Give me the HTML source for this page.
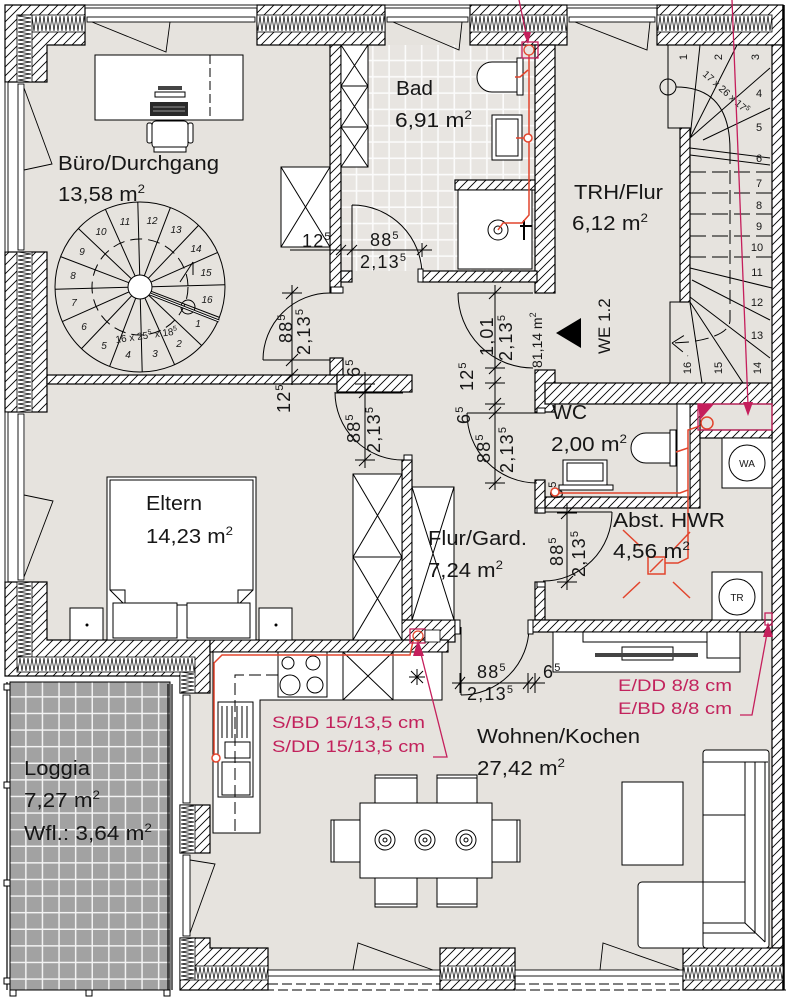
<!DOCTYPE html>
<html><head><meta charset="utf-8">
<style>
html,body{margin:0;padding:0;background:#fff;width:788px;height:1000px;overflow:hidden}
svg{display:block}
text{font-family:"Liberation Sans",Arial,sans-serif;fill:#161616}
.d{font-size:18px;letter-spacing:1.2px}
.m{fill:#c2225c}
</style></head><body>
<svg width="788" height="1000" viewBox="0 0 788 1000" xmlns="http://www.w3.org/2000/svg">
<defs>
<pattern id="h" patternUnits="userSpaceOnUse" width="9" height="9">
<rect width="9" height="9" fill="#fff"/>
<path d="M0,9 L9,0 M-2,2 L2,-2 M7,11 L11,7" stroke="#000" stroke-width="0.9"/>
</pattern>
<pattern id="iT" patternUnits="userSpaceOnUse" x="0" y="15" width="4" height="17">
<rect width="4" height="17" fill="#fff"/><path d="M0,1 L2,16 L4,1" fill="none" stroke="#000" stroke-width="0.7"/>
</pattern>
<pattern id="iL" patternUnits="userSpaceOnUse" x="17" y="0" width="15" height="4">
<rect width="15" height="4" fill="#fff"/><path d="M1,0 L14,2 L1,4" fill="none" stroke="#000" stroke-width="0.7"/>
</pattern>
<pattern id="iE" patternUnits="userSpaceOnUse" x="0" y="657" width="4" height="15">
<rect width="4" height="15" fill="#fff"/><path d="M0,1 L2,14 L4,1" fill="none" stroke="#000" stroke-width="0.7"/>
</pattern>
<pattern id="iK" patternUnits="userSpaceOnUse" x="180" y="0" width="15" height="4">
<rect width="15" height="4" fill="#fff"/><path d="M1,0 L14,2 L1,4" fill="none" stroke="#000" stroke-width="0.7"/>
</pattern>
<pattern id="iB" patternUnits="userSpaceOnUse" x="0" y="966" width="4" height="14">
<rect width="4" height="14" fill="#fff"/><path d="M0,1 L2,13 L4,1" fill="none" stroke="#000" stroke-width="0.7"/>
</pattern>
<pattern id="t" patternUnits="userSpaceOnUse" x="341" y="45" width="16.3" height="16.3">
<rect width="16.3" height="16.3" fill="#e8e5e1"/><path d="M15.5,0 V16.3 M0,15.5 H16.3" stroke="#fbfbfb" stroke-width="1.6"/>
</pattern>
<pattern id="lg" patternUnits="userSpaceOnUse" x="10" y="681" width="16.6" height="16.6">
<rect width="16.6" height="16.6" fill="#a2a2a2"/><path d="M16,0 V16.6 M0,16 H16.6" stroke="#f2f2f2" stroke-width="1.8"/>
</pattern>
</defs>

<!-- floor -->
<path d="M47,45 H772 V948 H210 V640 H47 Z" fill="#e6e3de"/>
<g fill="#e6e3de">
<rect x="85" y="22" width="172" height="23"/><rect x="385" y="22" width="85" height="23"/><rect x="567" y="22" width="90" height="23"/>
<rect x="25" y="82" width="22" height="170"/><rect x="25" y="412" width="22" height="170"/>
<rect x="190" y="693" width="20" height="112"/><rect x="190" y="853" width="20" height="85"/>
<rect x="268" y="948" width="172" height="22"/><rect x="515" y="948" width="168" height="22"/>
</g>
<!-- bad tiles -->
<rect x="341" y="45" width="194" height="226" fill="url(#t)"/>

<!-- loggia -->
<rect x="172" y="676" width="8" height="314" fill="#fff"/>
<rect x="10" y="682" width="160" height="308" fill="url(#lg)" stroke="#000" stroke-width="1"/>
<path d="M7,682 V990 M168,684 V990 M172,684 V990" stroke="#000" stroke-width="1.2"/>
<g fill="#fff" stroke="#000" stroke-width="1">
<rect x="4" y="684" width="6" height="6"/><rect x="4" y="782" width="6" height="6"/><rect x="4" y="880" width="6" height="6"/><rect x="4" y="978" width="6" height="6"/>
<rect x="10" y="990" width="6" height="6"/><rect x="86" y="990" width="6" height="6"/><rect x="164" y="990" width="6" height="6"/>
</g>

<!-- walls -->
<g fill="url(#h)" stroke="#000" stroke-width="1.2">
<path d="M5,5 H85 V45 H47 V82 H5 Z"/>
<rect x="257" y="5" width="128" height="40"/>
<rect x="470" y="5" width="97" height="40"/>
<rect x="657" y="5" width="126" height="40"/>
<rect x="772" y="45" width="11" height="903"/>
<rect x="5" y="252" width="42" height="160"/>
<path d="M5,582 H47 V640 H210 V693 H180 V676 H5 Z"/>
<rect x="180" y="805" width="30" height="48"/>
<path d="M180,938 H210 V948 H268 V990 H180 Z"/>
<rect x="440" y="948" width="75" height="42"/>
<rect x="683" y="948" width="100" height="42"/>
<rect x="330" y="45" width="11" height="248"/>
<rect x="535" y="45" width="20" height="248"/>
<rect x="341" y="271" width="11" height="11"/>
<rect x="422" y="271" width="115" height="11"/>
<rect x="455" y="180" width="80" height="10"/>
<rect x="47" y="375" width="290" height="9"/>
<rect x="330" y="358" width="13" height="17"/>
<rect x="337" y="375" width="75" height="17"/>
<rect x="402" y="460" width="10" height="180"/>
<rect x="535" y="370" width="20" height="42"/>
<rect x="545" y="383" width="227" height="21"/>
<rect x="690" y="404" width="10" height="104"/>
<rect x="700" y="430" width="72" height="8"/>
<rect x="545" y="497" width="145" height="11"/>
<rect x="535" y="480" width="10" height="33"/>
<rect x="535" y="582" width="10" height="38"/>
<rect x="530" y="620" width="242" height="12"/>
<rect x="400" y="620" width="55" height="22"/>
<rect x="210" y="640" width="238" height="12"/>
<rect x="680" y="128" width="10" height="174"/>
</g>
<path d="M783.5,5 V990" stroke="#000" stroke-width="2.5"/>
<!-- insulation -->
<g stroke="#000" stroke-width="0.8">
<rect x="17" y="15" width="68" height="17" fill="url(#iT)"/>
<rect x="17" y="15" width="15" height="67" fill="url(#iL)"/>
<rect x="257" y="15" width="128" height="17" fill="url(#iT)"/>
<rect x="470" y="15" width="97" height="17" fill="url(#iT)"/>
<rect x="657" y="15" width="115" height="17" fill="url(#iT)"/>
<rect x="17" y="252" width="15" height="160" fill="url(#iL)"/>
<rect x="17" y="582" width="15" height="75" fill="url(#iL)"/>
<rect x="17" y="657" width="178" height="15" fill="url(#iE)"/>
<rect x="180" y="672" width="15" height="21" fill="url(#iK)"/>
<rect x="180" y="805" width="15" height="48" fill="url(#iK)"/>
<rect x="180" y="938" width="15" height="42" fill="url(#iK)"/>
<rect x="195" y="966" width="73" height="14" fill="url(#iB)"/>
<rect x="440" y="966" width="75" height="14" fill="url(#iB)"/>
<rect x="683" y="966" width="100" height="14" fill="url(#iB)"/>
</g>

<!-- windows -->
<g fill="#fff" stroke="#000" stroke-width="0.9">
<rect x="85" y="5" width="172" height="3"/><rect x="87" y="17" width="168" height="5"/>
<rect x="385" y="5" width="85" height="3"/><rect x="387" y="17" width="81" height="5"/>
<rect x="567" y="5" width="90" height="3"/><rect x="569" y="17" width="86" height="5"/>
<rect x="5" y="82" width="3" height="170"/><rect x="18" y="84" width="6" height="166"/>
<rect x="5" y="412" width="3" height="170"/><rect x="18" y="414" width="6" height="166"/>
<rect x="183" y="695" width="7" height="108"/>
<rect x="183" y="855" width="7" height="81"/>
<rect x="268" y="970" width="172" height="6"/><rect x="515" y="970" width="168" height="6"/>
</g>
<g fill="none" stroke="#000" stroke-width="0.9">
<polyline points="92,22 166,52 170,22"/>
<polyline points="393,22 459,50 462,22"/>
<polyline points="575,22 647,50 650,22"/>
<polyline points="24,88 52,164 24,170"/>
<polyline points="24,495 53,501 24,577"/>
<polyline points="190,860 215,864 190,933"/>
<polyline points="353,970 358,943 433,970"/>
<polyline points="600,970 603,943 680,970"/>
<path d="M268,984 H440 M515,984 H683 M180,990 H786" stroke-dasharray="10,4"/>
</g>

<!-- Büro furniture -->
<g fill="#fff" stroke="#000" stroke-width="1">
<rect x="95" y="55" width="148" height="65"/>
<rect x="281" y="167" width="49" height="80"/>
<path d="M281,167 L330,247 M330,167 L281,247" fill="none"/>
<rect x="152" y="121" width="36" height="27" rx="4"/>
<rect x="147" y="123" width="5" height="20" rx="2"/><rect x="188" y="123" width="5" height="20" rx="2"/>
<rect x="154" y="147" width="32" height="5"/>
<rect x="155" y="92" width="30" height="5"/>
</g>
<path d="M210,55 V120" stroke="#000" stroke-dasharray="9,4"/>
<rect x="158" y="86" width="24" height="4" fill="#444"/>
<rect x="150" y="102" width="38" height="14" fill="#2a2a2a"/>
<path d="M153,107 H185 M153,111 H185" stroke="#bbb" stroke-width="0.8"/>

<!-- spiral stair -->
<g fill="none" stroke="#000" stroke-width="1">
<circle cx="140" cy="287" r="85" fill="#e6e3de"/>
<circle cx="140" cy="287" r="48" stroke-dasharray="12,6"/>
<path d="M151.2,291.3 L219.4,317.4 M148.7,295.3 L201.6,345.5 M144.9,298 L174.6,364.7 M140.3,299 L142.2,372 M135.7,298.2 L109.6,366.4 M131.7,295.7 L81.5,348.6 M129,291.9 L62.3,321.6 M128,287.3 L55,289.2 M128.8,282.7 L60.6,256.6 M131.3,278.7 L78.4,228.5 M135.1,276 L105.4,209.3 M139.7,275 L137.8,202 M144.3,275.8 L170.4,207.6 M148.3,278.3 L198.5,225.4 M151,282.1 L217.7,252.4 M152,286.7 L225,284.8"/>
<circle cx="140" cy="287" r="12" fill="#fff"/>
<circle cx="188" cy="307" r="7"/>
<path d="M180,282 L193,262 M193,262 L193,275" />
</g>
<path d="M150,294 L219,321" stroke="#000" stroke-width="3"/>
<path d="M150,294 L219,321" stroke="#fff" stroke-width="1"/>
<g font-size="10" font-style="italic" text-anchor="middle">
<text x="198" y="327">1</text><text x="179" y="347">2</text><text x="155" y="357">3</text><text x="128" y="358">4</text>
<text x="104" y="349">5</text><text x="84" y="330">6</text><text x="74" y="306">7</text><text x="73" y="279">8</text>
<text x="82" y="255">9</text><text x="101" y="235">10</text><text x="125" y="225">11</text><text x="152" y="224">12</text>
<text x="176" y="233">13</text><text x="196" y="252">14</text><text x="206" y="276">15</text><text x="207" y="303">16</text>
</g>
<text transform="translate(116,343) rotate(-8)" font-size="10">16 x 25<tspan font-size="7" dy="-4">5</tspan><tspan dy="4"> x 18</tspan><tspan font-size="7" dy="-4">5</tspan></text>

<!-- Bad fixtures -->
<g fill="#fff" stroke="#000" stroke-width="1">
<rect x="341" y="45" width="27" height="122"/>
<path d="M341,86 H368 M341,127 H368 M341,45 L368,86 M368,45 L341,86 M341,86 L368,127 M368,86 L341,127 M341,127 L368,167 M368,127 L341,167" fill="none"/>
<path d="M517,62 H492 A15,15 0 0 0 492,92 H517 Z"/>
<rect x="517" y="58" width="6" height="37"/>
<rect x="492" y="115" width="30" height="45"/>
<rect x="496" y="119" width="22" height="37"/>
<rect x="458" y="190" width="74" height="79"/>
<circle cx="498" cy="230" r="10"/>
<circle cx="498" cy="230" r="4"/>
</g>
<path d="M520,226 H532 M524,220 V240" stroke="#000" stroke-width="2"/>

<!-- TRH stair -->
<g fill="none" stroke="#000" stroke-width="1">
<path d="M668,45 V128 H680 M680,302 H670 V383"/>
<path d="M690,138 L700,45 M690,138 L737,45 M690,138 L770,68 M703,140 L770,108 M690,148 L770,158 M690,155 L770,165"/>
<path d="M690,172 H772 M690,193 H772 M690,214 H772 M690,236 H772 M690,257 H772" stroke-dasharray="16,6"/>
<path d="M690,268 L772,288 M692,280 L770,320 M690,297 L770,358 M690,302 L743,383 M690,303 L702,383"/>
<path d="M730,150 V320 Q730,336 690,342 L672,343 M672,343 L688,333 M672,343 L688,356" stroke-dasharray="14,6"/>
<circle cx="668" cy="87" r="8"/>
<path d="M676,87 Q730,87 730,150"/>
</g>
<g font-size="11" text-anchor="middle">
<text transform="translate(687,57) rotate(-90)">1</text>
<text transform="translate(722,57) rotate(-90)">2</text>
<text transform="translate(759,57) rotate(-90)">3</text>
<text x="759" y="97">4</text><text x="759" y="131">5</text><text x="759" y="162">6</text>
<text x="759" y="187">7</text><text x="759" y="209">8</text><text x="759" y="230">9</text>
<text x="757" y="251">10</text><text x="757" y="276">11</text><text x="757" y="306">12</text><text x="757" y="339">13</text>
<text transform="translate(761,368) rotate(-90)">14</text>
<text transform="translate(722,368) rotate(-90)">15</text>
<text transform="translate(691,368) rotate(-90)">16</text>
</g>
<text transform="translate(702,75) rotate(42)" font-size="10">17 x 26 x 17<tspan font-size="7" dy="-4">5</tspan></text>

<!-- WC / HWR fixtures -->
<rect x="677" y="404" width="13" height="93" fill="#fff" stroke="#000"/>
<g fill="#fff" stroke="#000" stroke-width="1">
<path d="M670,433 H646 A15,15 0 0 0 646,463 H670 Z"/>
<rect x="670" y="430" width="6" height="36"/>
<rect x="563" y="460" width="44" height="25"/>
<rect x="567" y="463" width="36" height="18"/>
<rect x="559" y="485" width="54" height="5"/>
<rect x="722" y="438" width="50" height="50"/>
<circle cx="747" cy="463" r="18"/>
<rect x="712" y="572" width="50" height="48"/>
<circle cx="737" cy="597" r="18"/>
</g>
<text x="747" y="467" font-size="10" text-anchor="middle">WA</text>
<text x="737" y="601" font-size="10" text-anchor="middle">TR</text>

<!-- sideboard -->
<g fill="#fff" stroke="#000" stroke-width="1">
<rect x="553" y="632" width="187" height="40"/>
<rect x="583" y="632" width="124" height="10"/>
<rect x="707" y="632" width="33" height="26"/>
<rect x="622" y="647" width="51" height="13"/>
</g>
<rect x="595" y="653" width="103" height="4" fill="#444"/>

<!-- Eltern furniture -->
<g fill="#fff" stroke="#000" stroke-width="1">
<rect x="107" y="477" width="149" height="163"/>
<path d="M110,480 H253 V590 L238,605 H125 L110,590 Z"/>
<path d="M110,590 H125 V605 M253,590 H238 V605" fill="none"/>
<rect x="113" y="603" width="64" height="35"/>
<rect x="187" y="603" width="63" height="35"/>
<rect x="70" y="608" width="33" height="32"/>
<rect x="259" y="608" width="33" height="32"/>
<rect x="353" y="474" width="49" height="166"/>
<path d="M353,557 H402 M353,474 L402,557 M402,474 L353,557 M353,557 L402,640 M402,557 L353,640" fill="none"/>
<rect x="412" y="487" width="42" height="133"/>
<path d="M412,487 L454,620 M454,487 L412,620" fill="none"/>
</g>
<circle cx="87" cy="625" r="1.5"/><circle cx="276" cy="625" r="1.5"/>

<!-- kitchen -->
<g fill="#fff" stroke="#000" stroke-width="1">
<path d="M213,652 H442 V700 H260 V833 H213 Z"/>
<rect x="278" y="652" width="49" height="45"/>
<circle cx="288" cy="663" r="6"/><circle cx="313" cy="663" r="7"/>
<circle cx="290" cy="685" r="10"/><circle cx="315" cy="685" r="8"/>
<rect x="343" y="652" width="50" height="48"/>
<path d="M343,652 L393,700 M393,652 L343,700" fill="none"/>
<rect x="393" y="652" width="49" height="48"/>
<rect x="218" y="702" width="35" height="95"/>
<rect x="225" y="742" width="25" height="16"/>
<rect x="222" y="762" width="28" height="33"/>
<path d="M222,706 V738 M227,706 V738 M232,706 V738 M237,706 V738 M242,706 V738 M247,706 V738" fill="none"/>
</g>
<path d="M278,675 H235 V833" fill="none" stroke="#000" stroke-dasharray="12,5"/>
<path d="M409,677 H425 M417,669 V685 M411,671 L423,683 M423,671 L411,683" stroke="#000"/>

<!-- dining -->
<g fill="#fff" stroke="#000" stroke-width="1">
<rect x="375" y="775" width="42" height="28"/><rect x="437" y="775" width="40" height="28"/>
<rect x="375" y="878" width="42" height="29"/><rect x="437" y="878" width="40" height="29"/>
<rect x="331" y="820" width="29" height="42"/><rect x="492" y="820" width="28" height="42"/>
<path d="M375,778 H417 M437,778 H477 M375,904 H417 M437,904 H477 M334,820 V862 M517,820 V862" fill="none"/>
<rect x="360" y="803" width="132" height="75"/>
<circle cx="385" cy="840" r="10"/><circle cx="385" cy="840" r="6"/><circle cx="385" cy="840" r="2"/>
<circle cx="425" cy="840" r="10"/><circle cx="425" cy="840" r="6"/><circle cx="425" cy="840" r="2"/>
<circle cx="466" cy="840" r="10"/><circle cx="466" cy="840" r="6"/><circle cx="466" cy="840" r="2"/>
<rect x="622" y="782" width="61" height="83"/>
<rect x="638" y="882" width="70" height="66" rx="4"/>
<rect x="703" y="750" width="66" height="198" rx="3"/>
<path d="M703,762 H768 M703,815 H745 M703,882 H745 M745,762 V923 M755,762 V933 M765,762 V942 M703,923 H745 L765,942 M703,933 H755" fill="none"/>
</g>

<!-- doors -->
<g fill="none" stroke="#000" stroke-width="1">
<path d="M352,205 A70,70 0 0 1 422,275 M352,205 V275"/>
<path d="M263,360 A67,67 0 0 1 330,293 M263,360 H330"/>
<path d="M335,392 A68,68 0 0 0 403,460 M335,393 H403"/>
<path d="M458,293 A75,75 0 0 0 533,368 M458,293 H533"/>
<path d="M467,413 A70,70 0 0 0 537,483 M467,413 H537"/>
<path d="M612,512 A69,69 0 0 1 543,581 M543,512 H612"/>
<path d="M461,695 A68,68 0 0 0 529,627 M461,627 V695"/>
</g>
<g fill="#fff" stroke="#000" stroke-width="1">
<rect x="528" y="620" width="5" height="14"/><rect x="455" y="620" width="5" height="14"/>
<rect x="404" y="455" width="8" height="5"/><rect x="537" y="408" width="8" height="5"/>
<rect x="537" y="508" width="8" height="5"/><rect x="537" y="582" width="8" height="5"/>
<rect x="331" y="287" width="12" height="6"/><rect x="418" y="269" width="5" height="13"/>
</g>

<!-- dimension lines -->
<g fill="none" stroke="#000" stroke-width="1">
<path d="M290,250 H432 M341,243 V257 M352,243 V257 M422,243 V257 M336,255 L346,245 M347,255 L357,245 M417,255 L427,245"/>
<path d="M292,285 V385 M282,293 H302 M282,360 H302 M282,375 H302 M282,384 H302 M286,299 L298,287 M286,366 L298,354 M286,381 L298,369"/>
<path d="M365,372 V468 M355,384 H375 M355,392 H375 M355,460 H375 M359,398 L371,386 M359,466 L371,454"/>
<path d="M495,285 V490 M485,293 H505 M485,368 H505 M485,383 H505 M485,404 H505 M485,413 H505 M485,483 H505 M489,299 L501,287 M489,374 L501,362 M489,389 L501,377 M489,410 L501,398 M489,419 L501,407 M489,489 L501,477"/>
<path d="M567,503 V590 M557,508 H577 M557,513 H577 M557,582 H577 M561,519 L573,507 M561,588 L573,576"/>
<path d="M452,683 H545 M460,673 V693 M528,673 V693 M535,673 V693 M455,689 L465,677 M523,689 L533,677 M530,689 L540,677"/>
</g>
<g class="d">
<text x="302" y="247">12<tspan font-size="11" dy="-7">5</tspan></text>
<text x="370" y="246">88<tspan font-size="11" dy="-7">5</tspan></text>
<text x="360" y="268">2,13<tspan font-size="11" dy="-7">5</tspan></text>
<text x="477" y="678">88<tspan font-size="11" dy="-7">5</tspan></text>
<text x="467" y="700">2,13<tspan font-size="11" dy="-7">5</tspan></text>
<text x="543" y="678">6<tspan font-size="11" dy="-7">5</tspan></text>
<text transform="translate(292,343) rotate(-90)">88<tspan font-size="11" dy="-7">5</tspan></text>
<text transform="translate(310,355) rotate(-90)">2,13<tspan font-size="11" dy="-7">5</tspan></text>
<text transform="translate(290,413) rotate(-90)">12<tspan font-size="11" dy="-7">5</tspan></text>
<text transform="translate(360,377) rotate(-90)">6<tspan font-size="11" dy="-7">5</tspan></text>
<text transform="translate(360,443) rotate(-90)">88<tspan font-size="11" dy="-7">5</tspan></text>
<text transform="translate(380,453) rotate(-90)">2,13<tspan font-size="11" dy="-7">5</tspan></text>
<text transform="translate(493,356) rotate(-90)">1,01</text>
<text transform="translate(512,361) rotate(-90)">2,13<tspan font-size="11" dy="-7">5</tspan></text>
<text transform="translate(473,391) rotate(-90)">12<tspan font-size="11" dy="-7">5</tspan></text>
<text transform="translate(470,424) rotate(-90)">6<tspan font-size="11" dy="-7">5</tspan></text>
<text transform="translate(490,463) rotate(-90)">88<tspan font-size="11" dy="-7">5</tspan></text>
<text transform="translate(513,473) rotate(-90)">2,13<tspan font-size="11" dy="-7">5</tspan></text>
<text transform="translate(563,566) rotate(-90)">88<tspan font-size="11" dy="-7">5</tspan></text>
<text transform="translate(585,577) rotate(-90)">2,13<tspan font-size="11" dy="-7">5</tspan></text>
<text transform="translate(563,499) rotate(-90)">6<tspan font-size="11" dy="-7">5</tspan></text>
</g>
<text transform="translate(542,368) rotate(-90)" font-size="14">81,14 m<tspan font-size="9" dy="-6">2</tspan></text>
<text transform="translate(610,354) rotate(-90)" font-size="17">WE 1.2</text>
<polygon points="556,333 581,318 581,348" fill="#000"/>

<!-- pipes red -->
<g fill="none" stroke="#e2452d" stroke-width="1.5">
<path d="M529,55 V215 L522,223 H503 L498,230"/>
<path d="M528,70 L520,77 H515 M528,138 H516"/>
<circle cx="528" cy="138" r="4" fill="#fff"/>
<path d="M700,426 L688,430 V490 L680,493 H559"/>
<path d="M688,448 L676,452 M688,490 V558 L678,563 H665"/>
<circle cx="555" cy="492" r="4" fill="#fff"/>
<circle cx="707" cy="423" r="6"/>
<rect x="648" y="557" width="17" height="17"/>
<path d="M650,572 L663,559"/>
<path d="M623,530 L640,546 M673,550 L690,532 M623,598 L640,582 M673,582 L690,598"/>
<path d="M413,641 L410,655 H222 L214,663 V754"/>
<circle cx="216" cy="758" r="4" fill="#fff"/>
</g>
<!-- magenta -->
<g fill="none" stroke="#c51f5c" stroke-width="1.3">
<rect x="522" y="42" width="16" height="16"/>
<path d="M519,0 L527,38"/>
<rect x="698" y="404" width="74" height="26"/>
<path d="M732,0 L748,405"/>
<rect x="410" y="629" width="15" height="14"/>
<path d="M420,650 L447,757 H433"/>
<rect x="765" y="613" width="7" height="12"/>
<path d="M768,628 L752,715 H740"/>
<circle cx="529" cy="50" r="5" stroke="#e2452d"/>
<circle cx="418" cy="636" r="5" stroke="#e2452d"/>
</g>
<g fill="#c51f5c">
<polygon points="523,32 531,32 528,44"/>
<polygon points="743,402 753,402 748,416"/>
<polygon points="698,404 714,404 700,420"/>
<polygon points="418,640 413,656 424,656"/>
<polygon points="768,622 763,637 773,637"/>
</g>
<rect x="425" y="630" width="15" height="12" fill="#fff" stroke="#000" stroke-width="0.8"/>

<!-- magenta labels -->
<g class="m" font-size="17">
<text x="272" y="728" class="m" textLength="153" lengthAdjust="spacingAndGlyphs">S/BD 15/13,5 cm</text>
<text x="272" y="752" class="m" textLength="153" lengthAdjust="spacingAndGlyphs">S/DD 15/13,5 cm</text>
<text x="618" y="691" class="m" textLength="114" lengthAdjust="spacingAndGlyphs">E/DD 8/8 cm</text>
<text x="618" y="714" class="m" textLength="114" lengthAdjust="spacingAndGlyphs">E/BD 8/8 cm</text>
</g>

<!-- room labels -->
<g font-size="20">
<text x="58" y="170" textLength="161" lengthAdjust="spacingAndGlyphs">Büro/Durchgang</text>
<text x="58" y="201" textLength="87" lengthAdjust="spacingAndGlyphs">13,58 m<tspan font-size="12" dy="-8">2</tspan></text>
<text x="396" y="95" textLength="37" lengthAdjust="spacingAndGlyphs">Bad</text>
<text x="395" y="127" textLength="77" lengthAdjust="spacingAndGlyphs">6,91 m<tspan font-size="12" dy="-8">2</tspan></text>
<text x="574" y="199" textLength="89" lengthAdjust="spacingAndGlyphs">TRH/Flur</text>
<text x="572" y="230" textLength="76" lengthAdjust="spacingAndGlyphs">6,12 m<tspan font-size="12" dy="-8">2</tspan></text>
<text x="552" y="419" textLength="35" lengthAdjust="spacingAndGlyphs">WC</text>
<text x="551" y="451" textLength="76" lengthAdjust="spacingAndGlyphs">2,00 m<tspan font-size="12" dy="-8">2</tspan></text>
<text x="613" y="527" textLength="112" lengthAdjust="spacingAndGlyphs">Abst. HWR</text>
<text x="613" y="558" textLength="77" lengthAdjust="spacingAndGlyphs">4,56 m<tspan font-size="12" dy="-8">2</tspan></text>
<text x="428" y="545" textLength="99" lengthAdjust="spacingAndGlyphs">Flur/Gard.</text>
<text x="428" y="577" textLength="75" lengthAdjust="spacingAndGlyphs">7,24 m<tspan font-size="12" dy="-8">2</tspan></text>
<text x="146" y="510" textLength="56" lengthAdjust="spacingAndGlyphs">Eltern</text>
<text x="146" y="543" textLength="87" lengthAdjust="spacingAndGlyphs">14,23 m<tspan font-size="12" dy="-8">2</tspan></text>
<text x="24" y="775" textLength="66" lengthAdjust="spacingAndGlyphs">Loggia</text>
<text x="24" y="807" textLength="76" lengthAdjust="spacingAndGlyphs">7,27 m<tspan font-size="12" dy="-8">2</tspan></text>
<text x="24" y="840" textLength="128" lengthAdjust="spacingAndGlyphs">Wfl.: 3,64 m<tspan font-size="12" dy="-8">2</tspan></text>
<text x="477" y="743" textLength="163" lengthAdjust="spacingAndGlyphs">Wohnen/Kochen</text>
<text x="477" y="775" textLength="88" lengthAdjust="spacingAndGlyphs">27,42 m<tspan font-size="12" dy="-8">2</tspan></text>
</g>
</svg>
</body></html>
